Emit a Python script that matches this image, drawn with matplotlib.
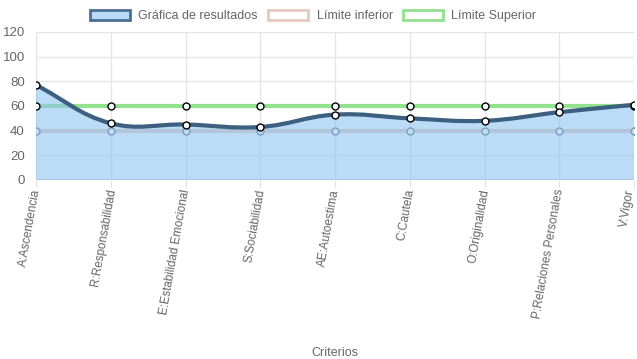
import numpy as np
import matplotlib
matplotlib.use("Agg")
from matplotlib import pyplot as plt
from matplotlib.path import Path
from matplotlib.patches import PathPatch, Patch
from matplotlib.transforms import ScaledTranslation

categorias = ["A:Ascendencia", "R:Responsabilidad", "E:Estabilidad Emocional",
              "S:Sociabilidad", "AE:Autoestima", "C:Cautela", "O:Originalidad",
              "P:Relaciones Personales", "V:Vigor"]
resultados = [77, 46, 45, 43, 53, 50, 48, 55, 61]
limite_inferior = [40, 40, 40, 40, 40, 40, 40, 40, 40]
limite_superior = [60, 60, 60, 60, 60, 60, 60, 60, 60]
y_ticks = [0, 20, 40, 60, 80, 100, 120]

plt.rcParams['font.family'] = ['Liberation Sans', 'DejaVu Sans']

W, H = 637, 359
fig = plt.figure(figsize=(W / 100, H / 100), dpi=100)
ax = fig.add_axes([36 / W, (H - 180) / H, (634 - 36) / W, (180 - 32) / H])
ax.set_xlim(0, len(categorias) - 1)
ax.set_ylim(0, 120)

x = np.arange(len(categorias))

# grid / axes style
for s in ax.spines.values():
    s.set_visible(False)
ax.set_yticks(y_ticks)
ax.set_xticks(x)
ax.grid(True, color="#e6e6e6", linewidth=1, zorder=0)
ax.axhline(0, color="#d0d0d0", linewidth=1.5, zorder=1)
ax.tick_params(axis="y", length=0, pad=8, labelsize=9.5, labelcolor="#666666")
ax.tick_params(axis="x", length=5, color="#e0e0e0", pad=2, labelsize=8.5, labelcolor="#666666")
ax.set_xticklabels(categorias, rotation=80, rotation_mode="anchor", ha="right", va="baseline")
# nudge the rotated labels a few pixels right (the last one stays inside the figure)
for lbl in ax.get_xticklabels()[:-1]:
    lbl.set_transform(lbl.get_transform() + ScaledTranslation(0.04, 0, fig.dpi_scale_trans))

# limit lines
ax.plot(x, limite_inferior, color="#e6c9bd", linewidth=3, zorder=2)
ax.plot(x, limite_inferior, linestyle="none", marker="o", markersize=5,
        markerfacecolor="white", markeredgecolor="#666666", markeredgewidth=1, zorder=2.5)
ax.plot(x, limite_superior, color="#93e28f", linewidth=3, zorder=2)

# smooth curve like a tension 0.4 spline, computed in pixel space
fig.canvas.draw()
pts = ax.transData.transform(np.column_stack([x, resultados]))
tension = 0.4
cp_prev, cp_next = [], []
n = len(pts)
for i in range(n):
    p0 = pts[i - 1] if i > 0 else pts[i]
    p1 = pts[i]
    p2 = pts[i + 1] if i < n - 1 else pts[i]
    d01 = np.hypot(*(p1 - p0))
    d12 = np.hypot(*(p2 - p1))
    tot = d01 + d12
    s01 = d01 / tot if tot else 0
    s12 = d12 / tot if tot else 0
    cp_prev.append(p1 - tension * s01 * (p2 - p0))
    cp_next.append(p1 + tension * s12 * (p2 - p0))
verts = [pts[0]]
codes = [Path.MOVETO]
for i in range(n - 1):
    verts += [cp_next[i], cp_prev[i + 1], pts[i + 1]]
    codes += [Path.CURVE4] * 3
inv = ax.transData.inverted()
verts_d = inv.transform(np.array(verts))

fill_verts = np.vstack([verts_d, [[x[-1], 0], [x[0], 0], verts_d[0]]])
fill_codes = codes + [Path.LINETO, Path.LINETO, Path.CLOSEPOLY]
ax.add_patch(PathPatch(Path(fill_verts, fill_codes), facecolor="#8fc3f0", alpha=0.6,
                       edgecolor="none", zorder=3))
ax.add_patch(PathPatch(Path(verts_d, codes), facecolor="none", edgecolor="#3d5f80",
                       linewidth=3, zorder=4))

ax.plot(x, limite_superior, linestyle="none", marker="o", markersize=5,
        markerfacecolor="white", markeredgecolor="black", markeredgewidth=1, zorder=5)
ax.plot(x, resultados, linestyle="none", marker="o", markersize=5,
        markerfacecolor="white", markeredgecolor="black", markeredgewidth=1, zorder=6)

ax.set_xlabel("Criterios", fontsize=9, color="#666666")
ax.xaxis.set_label_coords(0.5, (180 - 347) / 148)

handles = [
    Patch(facecolor="#b9dbf8", edgecolor="#4a6f93", linewidth=2),
    Patch(facecolor="white", edgecolor="#e6c9bd", linewidth=2),
    Patch(facecolor="white", edgecolor="#93e28f", linewidth=2),
]
fig.legend(handles, ["Gráfica de resultados", "Límite inferior", "Límite Superior"],
           loc="center", bbox_to_anchor=(313 / W, 1 - 16 / H), ncol=3, frameon=False,
           fontsize=9, handlelength=3.2, handleheight=0.8, columnspacing=0.8,
           handletextpad=0.7, labelcolor="#666666")

fig.savefig("out.png", dpi=100)
